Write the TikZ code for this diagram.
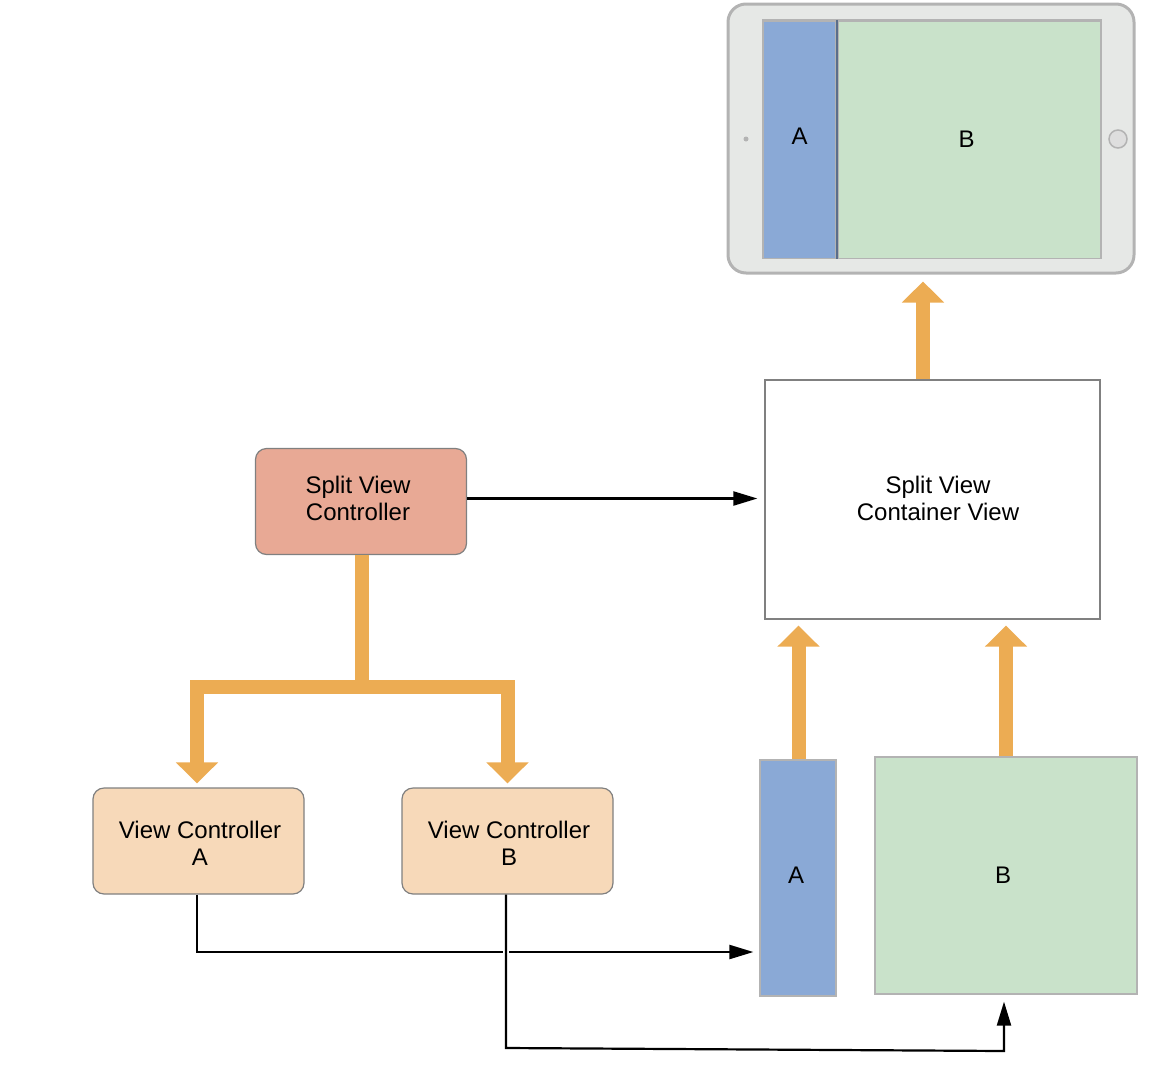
\documentclass[tikz,border=0pt]{standalone}
\usepackage{fontspec}
\setmainfont{Liberation Sans}
\usetikzlibrary{arrows.meta}
\definecolor{flow}{HTML}{ECAC53}
\definecolor{paneA}{HTML}{8AA9D6}
\definecolor{paneB}{HTML}{C9E2CA}
\definecolor{rim}{HTML}{B3B3B3}
\definecolor{shell}{HTML}{E6E8E6}
\definecolor{splitfill}{HTML}{E8A995}
\definecolor{ctrlfill}{HTML}{F7D9B9}
\tikzset{
  tag/.style={align=center,font=\fontsize{24}{27}\selectfont,inner sep=0pt},
  ctrl/.style={draw=black!50,line width=1.2pt,rounded corners=11pt,inner sep=0pt,
    minimum width=211pt,minimum height=106pt},
  pane/.style={draw=rim,line width=1.2pt,inner sep=0pt},
  bigflow/.style={draw=flow,line width=14pt,-{Triangle[length=21pt,width=41pt]}},
  thinflow/.style={draw=black,line width=2.2pt,-{Triangle[length=24pt,width=14pt]}}
}
\begin{document}
\begin{tikzpicture}[x=1pt,y=-1pt]
    \useasboundingbox (0,0) rectangle (1162,1074);
    % device
    \node[draw=rim,fill=shell,line width=3pt,rounded corners=18pt,
      minimum width=406pt,minimum height=269pt] (ipad) at (931,138.5) {};
    \node[draw=rim,fill=black!13!white,line width=1.5pt,circle,minimum size=18pt,inner sep=0pt] (homebutton) at (1118,139) {};
    \node[fill=rim,circle,minimum size=5pt,inner sep=0pt] (camera) at (746,139) {};
    \node[pane,fill=paneA,minimum width=73pt,minimum height=238pt,
      label={[tag,yshift=3pt]center:A}] (ipadA) at (799.5,139.5) {};
    \node[pane,fill=paneB,minimum width=263pt,minimum height=238pt,
      label={[tag,xshift=-3pt]center:B}] (ipadB) at (969.5,139.5) {};
    \draw[rim,line width=3pt] ([yshift=-0.5pt]ipadA.north west) -- ([yshift=-0.5pt]ipadB.north east);
    \draw[rim,line width=3pt] ([xshift=1pt]ipadA.north east) -- ([xshift=1pt]ipadA.south east);
    \draw[black!35!paneA,line width=2pt] (ipadA.north east) -- (ipadA.south east);
    % views
    \node[draw=black!50,fill=white,line width=1.2pt,minimum width=335pt,minimum height=239pt,
      label={[tag,xshift=5.5pt,yshift=1.5pt]center:Split View\\Container View}] (container) at (932.5,499.5) {};
    \node[pane,fill=paneA,minimum width=76pt,minimum height=236pt,
      label={[tag,xshift=-2pt,yshift=3pt]center:A}] (viewA) at (798,878) {};
    \node[pane,fill=paneB,minimum width=262pt,minimum height=237pt,
      label={[tag,xshift=-3pt]center:B}] (viewB) at (1006,875.5) {};
    % controllers
    \node[ctrl,fill=splitfill,
      label={[tag,xshift=-3pt,yshift=3.5pt]center:Split View\\Controller}] (split) at (361,501.5) {};
    \node[ctrl,fill=ctrlfill,
      label={[tag,xshift=1.5pt,yshift=-2.5pt]center:View Controller\\A}] (vcA) at (198.5,841) {};
    \node[ctrl,fill=ctrlfill,
      label={[tag,xshift=1.5pt,yshift=-2.5pt]center:View Controller\\B}] (vcB) at (507.5,841) {};
    % thick arrows
    \coordinate (fork) at (362,687);
    \draw[draw=flow,line width=14pt] ([xshift=1pt]split.south) -- (fork);
    \draw[bigflow,shorten >=4pt] (fork) -| ([xshift=-1.5pt]vcA.north);
    \draw[bigflow,shorten >=4pt] (fork) -| (vcB.north);
    \draw[bigflow,shorten >=6pt] ([xshift=0.5pt]viewA.north) -- ([xshift=0.5pt]viewA.north |- container.south);
    \draw[bigflow,shorten >=6pt] (viewB.north) -- (viewB.north |- container.south);
    \draw[bigflow,shorten >=7pt] ([xshift=-9.5pt]container.north) -- ([xshift=-9.5pt]container.north |- ipad.south);
    % thin arrows
    \draw[thinflow,shorten >=7pt] ([yshift=3pt]split.east) -- ([yshift=3pt]split.east -| container.west);
    \coordinate (cornerA) at (197,952);
    \coordinate (cornerB) at (506,1048);
    \coordinate (cornerC) at (1004,1051);
    \draw[thinflow,shorten >=6pt] ([xshift=-1.5pt]vcA.south) -- (cornerA) -- (cornerA -| viewA.west);
    \draw[white,line width=6.5pt,shorten <=30pt,shorten >=60pt] ([xshift=-1.5pt]vcB.south) -- (cornerB);
    \draw[thinflow,shorten >=7pt] ([xshift=-1.5pt]vcB.south) -- (cornerB) -- (cornerC) -- (cornerC |- viewB.south);
\end{tikzpicture}
\end{document}
